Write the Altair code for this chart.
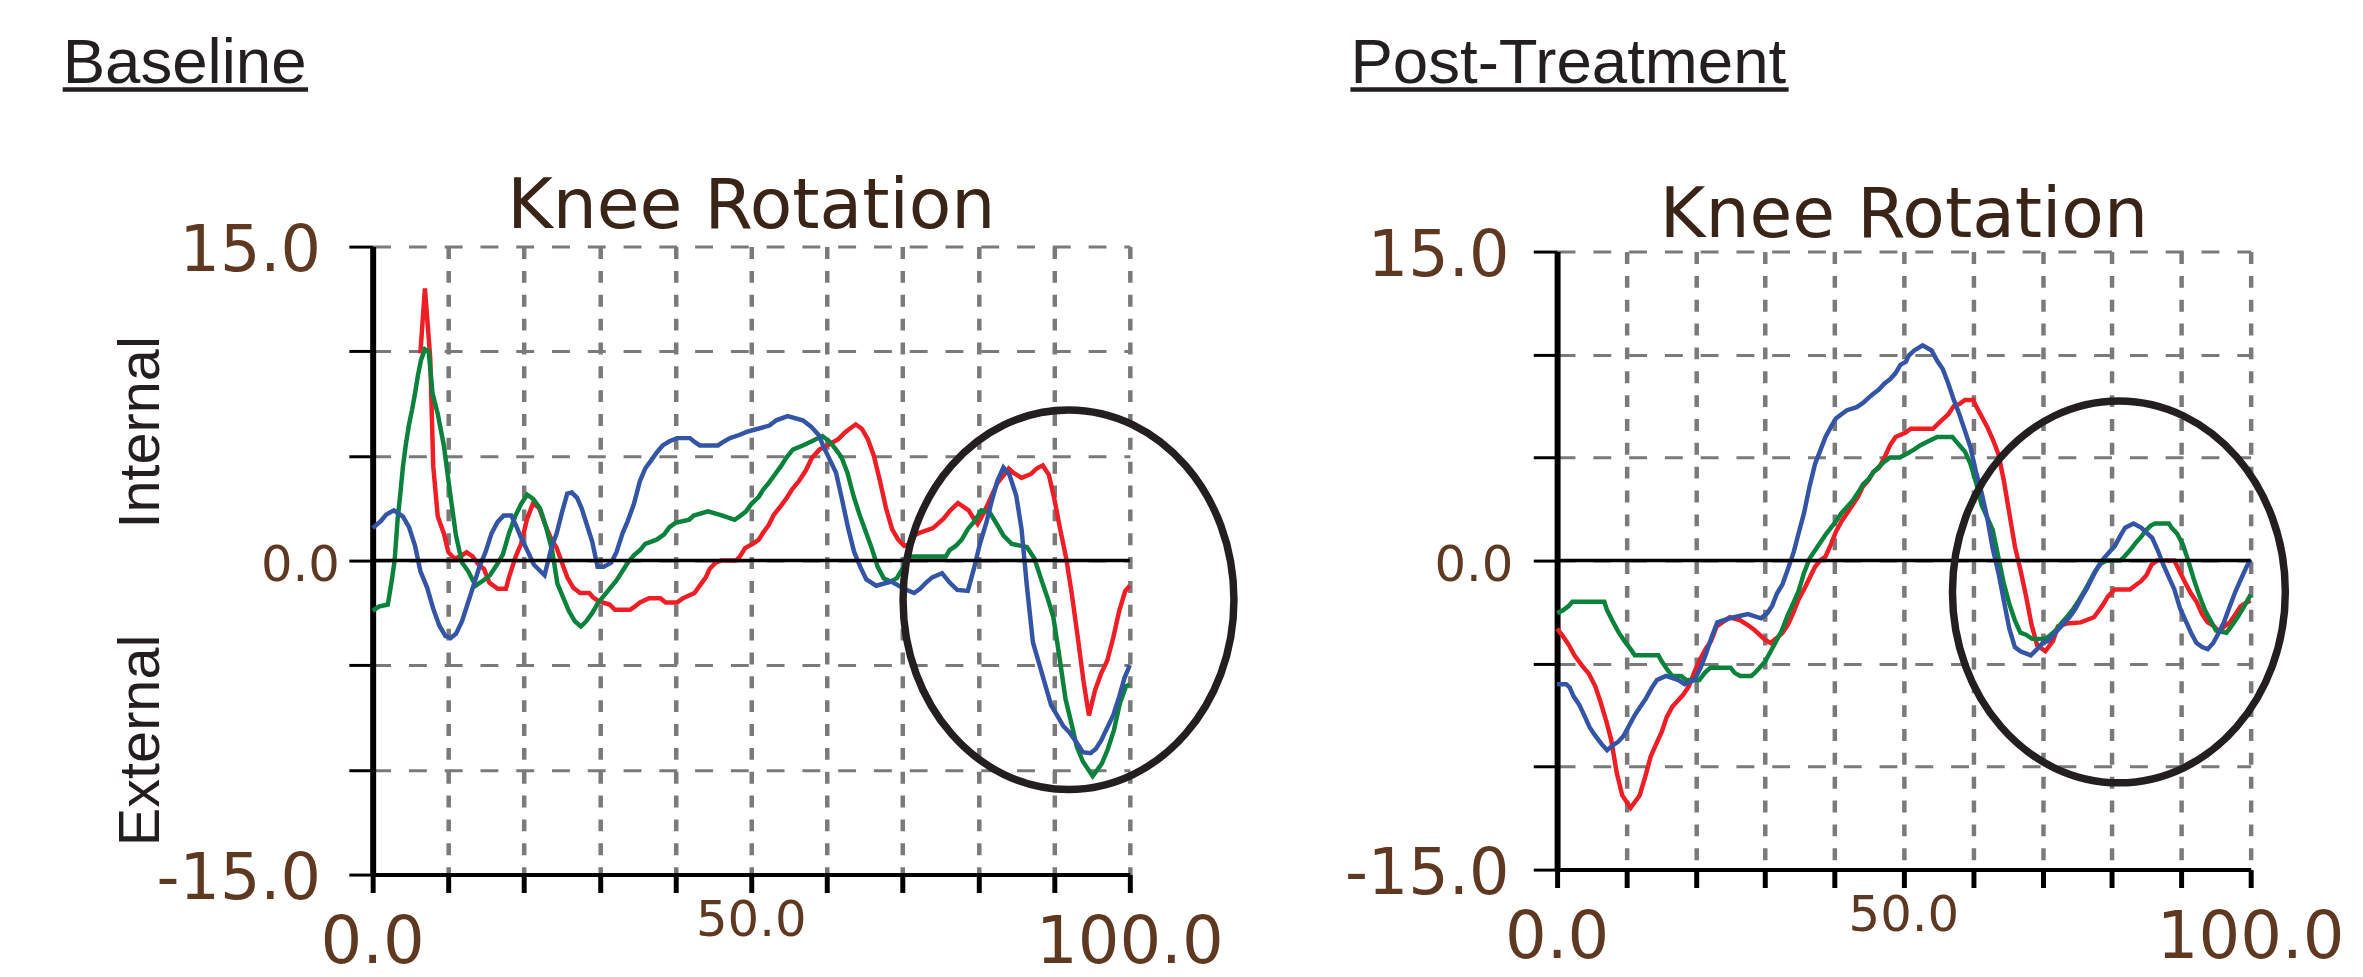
import altair as alt
import pandas as pd

# ---------------- data ----------------
series_names = ["Trial 1", "Trial 2", "Trial 3"]          # red, green, blue
series_colors = ["#ee1e24", "#0a823c", "#3454a6"]

# Baseline panel
base_red_x = [6.3, 6.9, 7.6, 8.0, 8.6, 9.4, 10.0, 10.8, 11.6, 12.4, 13.2, 14.0, 14.7, 15.4, 16.5, 17.6, 18.0, 18.9,
              19.6, 20.4, 21.2, 22.0, 22.8, 23.5, 24.3, 25.0, 25.7, 26.5, 27.4, 28.6, 29.1, 29.9, 31.3, 32.0, 34.0,
              34.6, 35.3, 36.5, 38.0, 38.7, 40.2, 41.0, 42.5, 43.3, 44.0, 44.5, 45.3, 46.0, 48.0, 48.5, 49.2, 50.2,
              51.0, 51.6, 52.3, 53.0, 53.9, 54.7, 55.4, 56.3, 57.2, 58.0, 59.0, 60.0, 61.5, 62.3, 63.0, 63.8, 64.6,
              65.4, 66.2, 67.0, 67.8, 68.6, 69.4, 70.2, 71.0, 71.5, 72.4, 74.0, 75.4, 76.3, 77.3, 78.7, 79.4, 79.9,
              80.6, 81.5, 82.5, 83.4, 84.0, 84.6, 85.7, 87.0, 87.7, 88.5, 89.3, 90.0, 90.8, 91.6, 92.3, 93.1, 93.9,
              94.6, 95.4, 96.2, 97.0, 97.8, 98.6, 99.4, 100.0]
base_red_y = [9.9, 13.0, 9.7, 4.5, 2.1, 1.3, 0.4, 0.1, 0.2, 0.4, 0.2, -0.2, -0.4, -1.05, -1.35, -1.35, -0.8, 0.2,
              0.8, 2.0, 2.75, 2.5, 1.7, 1.1, 0.6, -0.1, -0.8, -1.3, -1.55, -1.55, -1.75, -1.95, -2.1, -2.35, -2.35,
              -2.2, -2.0, -1.8, -1.8, -2.0, -2.0, -1.8, -1.55, -1.15, -0.8, -0.4, -0.1, 0.0, 0.0, 0.2, 0.6, 0.8,
              1.0, 1.35, 1.7, 2.2, 2.6, 3.0, 3.4, 3.8, 4.3, 4.9, 5.3, 5.5, 5.8, 6.1, 6.3, 6.5, 6.3,
              5.8, 5.0, 3.8, 2.5, 1.5, 1.0, 0.7, 0.8, 1.2, 1.35, 1.55, 2.0, 2.4, 2.75, 2.4, 2.0, 1.75,
              2.2, 2.9, 3.7, 4.1, 4.4, 4.2, 3.95, 4.15, 4.4, 4.55, 4.1, 3.0, 1.5, 0.1, -1.5, -3.6, -5.8,
              -7.4, -6.2, -5.4, -4.8, -3.7, -2.4, -1.45, -1.2]

base_green_x = [0.0, 0.8, 2.0, 2.5, 2.9, 3.3, 3.6, 4.0, 4.4, 4.8, 5.2, 5.6, 6.0, 6.4, 6.9, 7.4, 7.9, 8.6, 9.4, 10.2,
                11.0, 11.8, 12.6, 13.6, 14.6, 15.5, 16.4, 17.2, 18.0, 18.8, 19.6, 20.4, 21.2, 22.1, 22.9, 23.7, 24.4,
                25.2, 25.9, 26.7, 27.5, 28.2, 29.0, 29.8, 30.5, 31.4, 32.2, 33.0, 33.7, 34.5, 35.3, 36.0, 37.5, 38.5,
                39.2, 40.0, 41.8, 42.4, 44.3, 46.2, 47.8, 48.6, 49.3, 50.0, 51.0, 51.6, 52.3, 53.0, 53.9, 54.7, 55.5,
                56.8, 58.0, 59.4, 60.3, 61.1, 61.9, 62.7, 63.5, 64.3, 65.1, 65.9, 66.7, 67.5, 68.4, 69.2, 70.3, 71.0,
                75.7, 76.2, 77.0, 77.8, 78.6, 79.4, 80.4, 81.5, 82.5, 83.3, 84.4, 86.4, 87.4, 88.3, 89.1, 89.9, 90.7,
                91.5, 92.3, 93.0, 93.8, 95.1, 96.3, 97.1, 97.9, 98.7, 99.5, 100.0]
base_green_y = [-2.4, -2.2, -2.1, -1.0, 0.0, 2.0, 3.0, 4.5, 5.6, 6.5, 7.2, 8.0, 8.9, 9.6, 10.1, 10.0, 8.0, 7.0, 5.5, 3.3,
                1.2, -0.1, -0.5, -1.2, -0.95, -0.7, -0.2, 0.3, 1.3, 2.1, 2.7, 3.15, 2.95, 2.5, 1.6, 0.5, -1.1,
                -1.8, -2.4, -2.9, -3.15, -2.9, -2.5, -2.0, -1.7, -1.3, -0.95, -0.5, -0.1, 0.25, 0.5, 0.8, 1.0, 1.25,
                1.6, 1.8, 1.95, 2.15, 2.35, 2.15, 1.95, 2.15, 2.35, 2.7, 3.05, 3.4, 3.7, 4.05, 4.5, 4.95, 5.3,
                5.5, 5.7, 5.95, 5.7, 5.35, 4.95, 4.2, 3.1, 2.2, 1.4, 0.6, -0.3, -0.85, -1.0, -0.85, -0.2, 0.2,
                0.2, 0.5, 0.7, 1.0, 1.5, 1.85, 2.4, 2.3, 1.7, 1.2, 0.8, 0.65, 0.1, -0.9, -1.75, -2.7, -4.6,
                -6.6, -7.8, -8.9, -9.6, -10.3, -9.7, -9.0, -8.1, -6.8, -6.0, -5.9]

base_blue_x = [0.0, 1.1, 1.8, 2.8, 4.0, 4.8, 5.6, 6.3, 7.2, 8.0, 8.8, 9.6, 10.3, 11.0, 11.8, 12.6, 13.4, 14.1, 14.9,
               15.7, 16.5, 17.3, 18.3, 18.9, 19.6, 20.4, 21.3, 22.7, 23.6, 24.3, 25.0, 25.7, 26.3, 27.0, 27.6, 28.3,
               29.0, 29.7, 30.5, 31.5, 32.2, 33.0, 33.7, 34.5, 35.3, 36.0, 36.8, 37.6, 38.3, 39.2, 40.2, 41.9, 42.4,
               43.2, 45.6, 46.2, 47.2, 48.4, 49.4, 50.4, 52.4, 53.3, 54.8, 56.8, 57.9, 58.9, 59.6, 60.4, 61.2, 62.0,
               62.8, 63.6, 64.4, 65.2, 66.5, 68.5, 70.2, 71.5, 72.3, 73.1, 73.9, 75.2, 76.2, 77.2, 78.6, 79.4, 80.2,
               81.0, 81.8, 82.5, 83.3, 84.1, 85.0, 85.7, 86.4, 87.2, 88.0, 88.8, 89.6, 90.4, 91.2, 92.0, 92.8, 93.8,
               94.8, 95.5, 96.2, 97.0, 97.8, 98.6, 99.3, 100.0]
base_blue_y = [1.55, 1.9, 2.2, 2.4, 2.1, 1.6, 0.7, -0.5, -1.3, -2.3, -3.1, -3.6, -3.7, -3.5, -2.9, -2.0, -1.1, -0.3, 0.4,
               1.3, 1.85, 2.15, 2.15, 1.7, 1.1, 0.5, -0.2, -0.7, 0.6, 1.3, 2.3, 3.2, 3.25, 3.0, 2.5, 1.7,
               0.9, -0.3, -0.3, -0.1, 0.4, 1.3, 1.9, 2.7, 3.8, 4.4, 4.8, 5.2, 5.5, 5.7, 5.85, 5.85, 5.7,
               5.5, 5.5, 5.65, 5.85, 6.0, 6.15, 6.25, 6.45, 6.7, 6.9, 6.7, 6.4, 6.0, 5.4, 4.8, 4.2, 2.9,
               1.55, 0.4, -0.3, -0.9, -1.2, -1.0, -1.35, -1.55, -1.35, -1.05, -0.8, -0.6, -1.05, -1.4, -1.45, -0.4, 0.8,
               1.75, 2.9, 3.8, 4.45, 4.1, 3.1, 1.5, -1.2, -3.9, -4.9, -5.9, -6.9, -7.4, -7.9, -8.2, -8.6, -9.15,
               -9.2, -9.0, -8.6, -8.0, -7.4, -6.5, -5.6, -5.0]

# Post-Treatment panel
post_red_x = [0.0, 0.9, 1.7, 2.5, 3.6, 4.6, 5.5, 6.3, 7.1, 7.8, 8.6, 9.4, 10.6, 11.9, 12.7, 13.5, 14.3, 15.1, 15.8,
              16.6, 17.4, 18.2, 19.0, 19.8, 20.6, 21.4, 22.2, 23.0, 24.9, 26.4, 27.6, 28.4, 29.2, 30.0, 30.8, 31.7,
              32.5, 33.3, 34.1, 34.8, 35.6, 36.4, 37.2, 37.9, 38.7, 39.5, 40.2, 41.0, 41.8, 42.6, 43.4, 44.1, 44.9,
              45.6, 46.4, 47.2, 48.0, 48.8, 50.2, 51.0, 54.2, 54.8, 55.6, 56.4, 57.2, 58.0, 58.8, 60.0, 60.4, 61.2,
              62.0, 62.8, 63.6, 64.4, 65.2, 66.0, 66.8, 67.6, 68.4, 69.2, 70.4, 71.5, 72.2, 73.5, 75.5, 77.4, 78.6,
              79.4, 80.4, 82.6, 83.4, 84.2, 85.0, 85.7, 86.5, 89.0, 89.8, 90.6, 91.4, 92.2, 93.0, 93.8, 94.6, 95.5,
              96.2, 97.0, 97.8, 98.6, 99.6, 100.0]
post_red_y = [-3.3, -3.7, -4.1, -4.6, -5.1, -5.5, -6.1, -6.9, -7.8, -8.7, -10.3, -11.4, -12.0, -11.4, -10.5, -9.5, -8.9,
              -8.3, -7.6, -7.1, -6.8, -6.5, -6.1, -5.4, -4.8, -4.3, -3.9, -3.2, -2.75, -2.9, -3.15, -3.35, -3.6,
              -3.85, -4.0, -3.75, -3.5, -3.1, -2.5, -1.9, -1.4, -0.85, -0.3, 0.0, 0.2, 0.8, 1.4, 1.9, 2.3, 2.7,
              3.1, 3.6, 3.9, 4.3, 4.5, 5.0, 5.6, 6.0, 6.2, 6.4, 6.4, 6.6, 6.85, 7.1, 7.5, 7.6, 7.8, 7.8, 7.5,
              7.0, 6.5, 5.9, 5.2, 3.9, 2.3, 0.7, -0.45, -1.7, -3.1, -4.1, -4.4, -3.9, -3.2, -3.05, -3.0, -2.75,
              -2.2, -1.75, -1.4, -1.4, -1.2, -1.0, -0.7, -0.2, 0.0, 0.0, -0.55, -1.1, -1.6, -2.0, -2.6, -3.0,
              -3.15, -3.45, -3.2, -3.0, -2.6, -2.2, -2.0, -1.95]

post_green_x = [0.0, 0.9, 1.7, 2.2, 6.8, 7.2, 8.1, 8.9, 9.7, 10.6, 11.2, 14.6, 15.1, 15.9, 16.6, 17.9, 18.6, 20.5, 21.3,
                22.1, 25.0, 25.6, 26.4, 28.0, 28.5, 29.2, 30.0, 30.8, 31.6, 32.4, 33.2, 34.0, 34.8, 35.6, 36.4, 37.2,
                38.0, 38.8, 39.5, 40.2, 41.0, 41.8, 42.6, 43.4, 44.1, 44.9, 45.6, 46.4, 47.2, 48.0, 49.4, 50.5, 51.5,
                52.4, 53.6, 54.8, 57.0, 57.5, 58.0, 58.8, 59.6, 60.4, 61.2, 62.0, 62.8, 63.6, 64.4, 65.2, 66.0, 66.8,
                67.6, 68.5, 70.4, 71.2, 72.0, 72.8, 73.6, 74.4, 75.2, 76.0, 76.8, 77.6, 78.4, 79.2, 81.2, 81.8, 82.6,
                83.4, 84.2, 85.0, 85.6, 86.2, 88.2, 88.6, 89.4, 90.2, 91.0, 91.8, 92.6, 93.4, 94.2, 95.0, 96.5, 97.4,
                98.2, 99.1, 100.0]
post_green_y = [-2.55, -2.4, -2.2, -2.0, -2.0, -2.4, -3.0, -3.5, -3.9, -4.3, -4.6, -4.6, -4.9, -5.3, -5.6, -5.6, -5.8,
                -5.8, -5.45, -5.2, -5.2, -5.45, -5.6, -5.6, -5.45, -5.2, -4.9, -4.4, -3.9, -3.4, -2.7, -2.1, -1.5,
                -0.6, 0.1, 0.5, 0.9, 1.3, 1.6, 1.9, 2.3, 2.6, 2.9, 3.3, 3.7, 3.95, 4.3, 4.55, 4.8, 5.0, 5.0,
                5.2, 5.4, 5.6, 5.8, 6.0, 6.0, 5.8, 5.6, 5.3, 4.7, 3.8, 2.7, 2.1, 1.5, 0.2, -1.1, -2.1, -2.9,
                -3.5, -3.6, -3.8, -3.8, -3.6, -3.35, -3.0, -2.7, -2.35, -1.95, -1.5, -1.0, -0.5, -0.15, 0.0, 0.0,
                0.2, 0.5, 0.85, 1.15, 1.5, 1.7, 1.8, 1.8, 1.6, 1.3, 0.8, 0.0, -0.9, -1.7, -2.4, -2.9, -3.4, -3.5,
                -3.1, -2.7, -2.2, -1.65]

post_blue_x = [0.0, 1.3, 1.8, 2.4, 3.2, 3.9, 4.7, 5.5, 6.4, 7.2, 8.1, 8.8, 9.6, 10.4, 11.2, 12.0, 12.8, 13.6, 14.4,
               15.7, 17.5, 18.4, 19.8, 20.7, 21.5, 22.3, 23.1, 24.9, 27.5, 29.4, 30.3, 31.0, 31.7, 32.5, 33.3, 34.1,
               34.8, 35.6, 36.4, 37.2, 37.9, 38.7, 39.5, 40.2, 41.0, 41.8, 43.2, 44.1, 44.9, 45.6, 46.4, 47.2, 48.0,
               48.8, 49.5, 50.3, 50.7, 51.5, 52.7, 54.0, 54.8, 55.6, 56.4, 57.2, 58.0, 58.8, 59.6, 60.4, 61.2, 62.0,
               62.8, 63.7, 64.5, 65.2, 66.0, 66.8, 68.3, 69.2, 70.0, 70.8, 71.6, 72.4, 73.2, 74.0, 74.8, 75.6, 76.4,
               77.2, 78.0, 78.8, 79.6, 80.4, 81.2, 81.9, 83.1, 84.2, 85.0, 85.8, 86.6, 87.4, 88.2, 89.0, 89.8, 90.6,
               91.4, 92.2, 93.0, 93.8, 94.6, 95.4, 96.2, 96.9, 97.8, 98.6, 99.4, 100.0]
post_blue_y = [-6.0, -6.0, -6.15, -6.6, -7.0, -7.5, -8.1, -8.5, -8.9, -9.2, -8.95, -8.8, -8.5, -8.0, -7.5, -7.1, -6.7,
               -6.2, -5.8, -5.6, -5.8, -6.0, -5.8, -5.2, -4.5, -3.7, -3.0, -2.8, -2.6, -2.8, -2.55, -2.2, -1.6,
               -1.15, -0.4, 0.4, 1.3, 2.3, 3.6, 4.7, 5.3, 6.0, 6.5, 6.9, 7.1, 7.3, 7.45, 7.65, 7.9, 8.1, 8.3,
               8.6, 8.8, 9.1, 9.5, 9.65, 9.95, 10.2, 10.45, 10.2, 9.7, 9.3, 8.6, 7.8, 7.1, 6.3, 5.5, 4.3, 3.3,
               2.1, 0.6, -0.7, -2.1, -3.3, -4.2, -4.4, -4.6, -4.3, -4.0, -3.9, -3.6, -3.3, -3.0, -2.7, -2.3, -1.8,
               -1.35, -0.8, -0.3, 0.1, 0.4, 0.7, 1.2, 1.6, 1.8, 1.6, 1.35, 1.1, 0.5, -0.2, -0.8, -1.4, -2.3, -2.9,
               -3.5, -4.0, -4.2, -4.3, -4.0, -3.5, -2.95, -2.3, -1.5, -0.9, -0.3, 0.05]

# axis ticks and tick labels
x_ticks = [0, 10, 20, 30, 40, 50, 60, 70, 80, 90, 100]
y_ticks = [-15, -10, -5, 0, 5, 10, 15]
x_label_values_big = [0, 100]
x_label_text_big = ["0.0", "100.0"]
x_label_values_small = [50]
x_label_text_small = ["50.0"]
y_label_values_big = [-15, 15]
y_label_text_big = ["-15.0", "15.0"]
y_label_values_small = [0]
y_label_text_small = ["0.0"]
zero_line = [0]

panel_titles = ["Baseline", "Post-Treatment"]
plot_title = "Knee Rotation"
y_side_titles = ["Internal", "External"]

# highlighted region (ellipse centres, data units)
ellipse_base_x, ellipse_base_y = [91.9], [-1.87]
ellipse_post_x, ellipse_post_y = [81.0], [-1.52]

# ---------------- styling ----------------
LABEL_FONT = "DejaVu Sans"
LABEL_COLOR = "#5e3820"
TITLE_COLOR = "#3a2418"
DARK = "#231f20"
GRID = "#7a7a7a"

k = 1.147
c = 0.5523
ELLIPSE = (f"M 1 0 C 1 {c*k:.4f} {c} {k} 0 {k} C -{c} {k} -1 {c*k:.4f} -1 0 "
           f"C -1 -{c*k:.4f} -{c} -{k} 0 -{k} C {c} -{k} 1 -{c*k:.4f} 1 0 Z")


def long_df(triples):
    rows = []
    for name, xs, ys in triples:
        for xv, yv in zip(xs, ys):
            rows.append({"x": xv, "y": yv, "series": name})
    return pd.DataFrame(rows)


X_SCALE = alt.Scale(domain=[0, 100], nice=False, zero=False)
Y_SCALE = alt.Scale(domain=[-15, 15], nice=False, zero=False)
X_AXIS = alt.Axis(values=x_ticks, labels=False, title=None, grid=True, gridColor=GRID,
                  gridDash=[12, 12], gridWidth=4.5, domainColor="black", domainWidth=4,
                  tickColor="black", tickSize=18, tickWidth=5)
Y_AXIS = alt.Axis(values=y_ticks, labels=False, title=None, grid=True, gridColor=GRID,
                  gridDash=[18, 18], gridWidth=3, domainColor="black", domainWidth=6,
                  tickColor="black", tickSize=24, tickWidth=3)


def panel(df, w, h, title, title_x, title_y, ul_x2, ell_x, ell_y, ell_size,
          knee_dy, ylab_big_dx, ylab_small_dx, side_titles):
    X = lambda f: alt.X(f, scale=X_SCALE, axis=X_AXIS)
    Y = lambda f: alt.Y(f, scale=Y_SCALE, axis=Y_AXIS)

    lines = alt.Chart(df).mark_line(strokeWidth=4.5).encode(
        x=X("x:Q"), y=Y("y:Q"),
        color=alt.Color("series:N", scale=alt.Scale(domain=series_names, range=series_colors), legend=None),
    )
    zero = alt.Chart(pd.DataFrame({"y": zero_line})).mark_rule(color="black", strokeWidth=3.5).encode(
        y=Y("y:Q"))
    ell = alt.Chart(pd.DataFrame({"x": ell_x, "y": ell_y})).mark_point(
        shape=ELLIPSE, size=ell_size, filled=False, stroke=DARK, strokeWidth=7.5, opacity=1
    ).encode(x=X("x:Q"), y=Y("y:Q"))

    ylab_big = alt.Chart(pd.DataFrame({"v": y_label_values_big, "t": y_label_text_big})).mark_text(
        font=LABEL_FONT, fontSize=64, color=LABEL_COLOR, align="right", baseline="alphabetic", dy=25
    ).encode(y=Y("v:Q"), x=alt.value(ylab_big_dx), text="t:N")
    ylab_small = alt.Chart(pd.DataFrame({"v": y_label_values_small, "t": y_label_text_small})).mark_text(
        font=LABEL_FONT, fontSize=50, color=LABEL_COLOR, align="right", baseline="alphabetic", dy=21
    ).encode(y=Y("v:Q"), x=alt.value(ylab_small_dx), text="t:N")
    xlab_big = alt.Chart(pd.DataFrame({"v": x_label_values_big, "t": x_label_text_big})).mark_text(
        font=LABEL_FONT, fontSize=66, color=LABEL_COLOR, align="center", baseline="alphabetic"
    ).encode(x=X("v:Q"), y=alt.value(h + 89), text="t:N")
    xlab_small = alt.Chart(pd.DataFrame({"v": x_label_values_small, "t": x_label_text_small})).mark_text(
        font=LABEL_FONT, fontSize=50, color=LABEL_COLOR, align="center", baseline="alphabetic"
    ).encode(x=X("v:Q"), y=alt.value(h + 62), text="t:N")

    knee = alt.Chart(pd.DataFrame({"t": [plot_title]})).mark_text(
        font=LABEL_FONT, fontSize=70, color=TITLE_COLOR, align="center", baseline="alphabetic"
    ).encode(x=alt.value(w / 2), y=alt.value(knee_dy), text="t:N")
    ptitle = alt.Chart(pd.DataFrame({"t": [title]})).mark_text(
        font="Liberation Sans", fontSize=64, color=DARK, align="left", baseline="alphabetic"
    ).encode(x=alt.value(title_x), y=alt.value(title_y), text="t:N")
    uline = alt.Chart(pd.DataFrame({"t": [title]})).mark_rule(color=DARK, strokeWidth=4.5).encode(
        x=alt.value(title_x), x2=alt.value(ul_x2), y=alt.value(title_y + 7))

    layers = [lines, zero, ell, ylab_big, ylab_small, xlab_big, xlab_small, knee, ptitle, uline]
    if side_titles:
        for txt, ypos in zip(y_side_titles, [187, 497]):
            layers.append(alt.Chart(pd.DataFrame({"t": [txt]})).mark_text(
                font="Liberation Sans", fontSize=58, color=DARK, angle=270, align="center",
                baseline="alphabetic"
            ).encode(x=alt.value(-215), y=alt.value(ypos), text="t:N"))
    return alt.layer(*layers).properties(width=w, height=h)


base_df = long_df([(series_names[0], base_red_x, base_red_y),
                   (series_names[1], base_green_x, base_green_y),
                   (series_names[2], base_blue_x, base_blue_y)])
post_df = long_df([(series_names[0], post_red_x, post_red_y),
                   (series_names[1], post_green_x, post_green_y),
                   (series_names[2], post_blue_x, post_blue_y)])

left = panel(base_df, 762, 632, panel_titles[0], -312, -165, -65,
             ellipse_base_x, ellipse_base_y, 110889, -19, -52, -33, True)
right = panel(post_df, 698, 622, panel_titles[1], -208, -170, 233,
              ellipse_post_x, ellipse_post_y, 112225, -15, -48, -44, False)

chart = alt.hconcat(left, right, spacing=430, bounds="flush", center=True).properties(
    padding={"left": 52, "top": 21, "right": 10, "bottom": 5},
    background="white",
).configure_view(strokeWidth=0)

chart.save("out.html", embed_options={"renderer": "svg", "actions": False})
